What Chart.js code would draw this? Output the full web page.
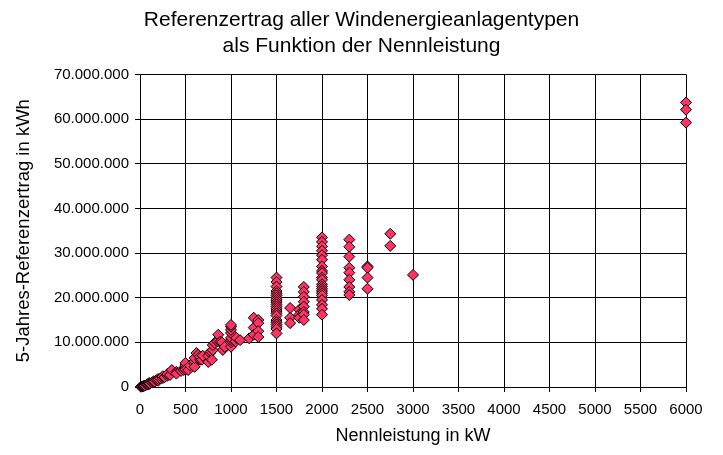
<!DOCTYPE html>
<html>
<head>
<meta charset="utf-8">
<script src="https://cdn.jsdelivr.net/npm/chart.js@4.4.1/dist/chart.umd.min.js"></script>
<style>
  body { margin: 0; background: #fff; }
  #wrap { width: 723px; height: 455px; }
</style>
</head>
<body>
<div id="wrap"><canvas id="myChart"></canvas></div>
<script>
"use strict";

// Nennleistung in kW
let nennleistung = [
  10, 20, 30, 40, 50, 55, 75, 80, 90, 100, 100, 110, 130, 150, 150, 160, 180, 200, 200, 225, 250, 250, 270, 300, 300,
  330, 350, 400, 400, 450, 480, 500, 500, 500, 500, 530, 550, 600, 600, 600,
  600, 620, 640, 660, 660, 680, 690, 750, 750, 770, 780, 790, 800, 800, 820, 850, 860, 880, 900, 910, 930,
  1000, 1000, 1000, 1000, 1000, 1000, 1000, 1000, 1050, 1060, 1100, 1200,
  1250, 1250, 1250, 1300, 1300, 1300, 1300,
  1500, 1500, 1500, 1500, 1500, 1500, 1500, 1500, 1500, 1500, 1500, 1500, 1500, 1500, 1500, 1500, 1500, 1500, 1500, 1500, 1500,
  1650, 1650, 1650, 1750, 1750, 1750,
  1800, 1800, 1800, 1800, 1800, 1800, 1800, 1800,
  2000, 2000, 2000, 2000, 2000, 2000, 2000, 2000, 2000, 2000, 2000, 2000, 2000, 2000, 2000, 2000, 2000, 2000, 2000, 2000, 2000,
  2300, 2300, 2300, 2300, 2300, 2300, 2300, 2300, 2300,
  2500, 2500, 2500, 2500,
  2750, 2750,
  3000,
  6000, 6000, 6000
];

// 5-Jahres-Referenzertrag in Mio. kWh
let ertragMio = [
  0.05, 0.1, 0.15, 0.2, 0.3, 0.35, 0.5, 0.6, 0.55, 0.7, 0.9, 0.8, 1.0, 1.0, 1.3, 1.2, 1.5, 1.4, 1.8, 1.9, 2.0, 2.4, 2.2, 2.5, 2.9,
  2.7, 3.8, 3.4, 3.0, 3.6, 3.8, 4.3, 4.9, 5.4, 3.9, 3.8, 4.8, 5.2, 5.8, 4.5,
  6.5, 7.6, 7.2, 6.1, 6.8, 6.1, 7.0, 5.6, 7.0, 7.6, 8.0, 6.1, 8.3, 9.4, 9.9, 10.2, 11.7, 10.1, 10.0, 8.3, 9.0,
  9.0, 10.0, 10.5, 11.0, 12.1, 12.8, 13.5, 13.9, 10.2, 11.0, 10.5, 10.9,
  15.5, 13.3, 11.7, 15.0, 14.3, 12.5, 11.2,
  24.5, 23.5, 22.5, 21.5, 21.0, 20.5, 20.0, 19.5, 19.0, 18.5, 18.0, 17.5, 17.0, 16.5, 16.0, 15.0, 14.5, 14.0, 13.5, 13.0, 12.0,
  17.7, 15.5, 14.3, 17.3, 16.2, 15.5,
  22.4, 21.3, 20.2, 19.1, 18.0, 16.8, 16.2, 15.0,
  33.5, 32.5, 31.5, 30.5, 29.5, 28.5, 27.0, 26.0, 25.5, 24.5, 24.0, 23.0, 22.5, 22.0, 21.5, 21.0, 20.5, 19.5, 18.4, 17.5, 16.2,
  33.0, 31.4, 29.2, 26.7, 25.6, 24.0, 22.4, 21.3, 20.6,
  27.0, 26.7, 24.5, 22.0,
  34.3, 31.6,
  25.1,
  63.7, 62.1, 59.2
];

let xTicks = [0, 500, 1000, 1500, 2000, 2500, 3000, 3500, 4000, 4500, 5000, 5500, 6000];
let yTicks = [0, 10000000, 20000000, 30000000, 40000000, 50000000, 60000000, 70000000];

let chartTitle = ['Referenzertrag aller Windenergieanlagentypen', 'als Funktion der Nennleistung'];
let xTitle = 'Nennleistung in kW';
let yTitle = '5-Jahres-Referenzertrag in kWh';

function formatDE(v) {
  return String(v).replace(/\B(?=(\d{3})+(?!\d))/g, '.');
}

let points = [];
for (let i = 0; i < nennleistung.length; i++) {
  points.push({ x: nennleistung[i], y: Math.round(ertragMio[i] * 1000000) });
}

const FONT = '"Liberation Sans", Arial, sans-serif';
Chart.defaults.font.family = FONT;
Chart.defaults.color = '#000';

let chartObject = {
  type: 'scatter',
  data: {
    datasets: [{
      data: points,
      pointStyle: 'rectRot',
      pointRadius: 5.5,
      pointHoverRadius: 5.5,
      backgroundColor: '#FF3366',
      borderColor: '#000',
      borderWidth: 1,
      clip: false
    }]
  },
  options: {
    responsive: true,
    maintainAspectRatio: false,
    animation: false,
    layout: { padding: 0 },
    plugins: {
      legend: { display: false },
      tooltip: { enabled: false },
      title: {
        display: true,
        text: chartTitle,
        color: '#000',
        font: { size: 21, weight: 'normal', family: FONT, lineHeight: 1.2 },
        padding: { top: 8, bottom: 16 }
      }
    },
    scales: {
      x: {
        type: 'linear',
        min: 0,
        max: 6000,
        afterBuildTicks: function (scale) {
          scale.ticks = xTicks.map(function (v) { return { value: v }; });
        },
        afterFit: function (scale) { scale.height = 68; },
        grid: { color: '#000', lineWidth: 1, tickLength: 5, tickColor: '#000' },
        border: { color: '#000', width: 1 },
        ticks: {
          color: '#000',
          padding: 9,
          maxRotation: 0,
          font: { size: 15 },
          callback: function (value) { return String(value); }
        },
        title: {
          display: true,
          text: xTitle,
          color: '#000',
          font: { size: 18, family: FONT },
          padding: { top: 0, bottom: 8 }
        }
      },
      y: {
        type: 'linear',
        min: 0,
        max: 70000000,
        afterBuildTicks: function (scale) {
          scale.ticks = yTicks.map(function (v) { return { value: v }; });
        },
        afterFit: function (scale) { scale.width = 140; },
        grid: { color: '#000', lineWidth: 1, tickLength: 5, tickColor: '#000' },
        border: { color: '#000', width: 1 },
        ticks: {
          color: '#000',
          padding: 6,
          font: { size: 15 },
          callback: function (value) { return formatDE(value); }
        },
        title: {
          display: true,
          text: yTitle,
          color: '#000',
          font: { size: 18.5, family: FONT },
          padding: { top: 13, bottom: 0 }
        }
      },
      // empty right axis, only reserves the white margin right of the plot
      yRight: {
        type: 'linear',
        position: 'right',
        min: 0,
        max: 1,
        afterFit: function (scale) { scale.width = 37; },
        grid: { display: false },
        border: { display: false },
        ticks: { display: false }
      }
    }
  }
};

let ctx = document.getElementById('myChart').getContext('2d');
let myChart = new Chart(ctx, chartObject);
</script>
</body>
</html>
